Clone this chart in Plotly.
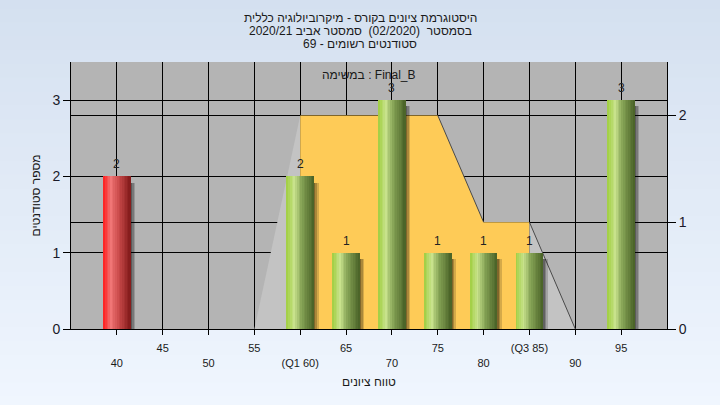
import plotly.graph_objects as go
import numpy as np

# ---------------- data ----------------
bins = [40, 45, 50, 55, 60, 65, 70, 75, 80, 85, 90, 95]
counts = [2, 0, 0, 0, 2, 1, 3, 1, 1, 1, 0, 3]
tick_labels = ["40", "45", "50", "55", "(Q1 60)", "65", "70", "75", "80", "(Q3 85)", "90", "95"]
pass_grade = 55
curve_x = [55, 60, 75, 80, 85, 90]
curve_y = [0, 2, 2, 1, 1, 0]
q1, q3 = 60, 85

title_lines = [
    "היסטוגרמת ציונים בקורס - מיקרוביולוגיה כללית",
    "בסמסטר  (02/2020)  סמסטר אביב 2020/21",
    "סטודנטים רשומים - 69",
]
task_label = "במשימה : Final_B"
x_title = "טווח ציונים"
y_title = "מספר סטודנטים"

# ---------------- layout constants ----------------
W, H = 720, 405
ML, MR, MT, MB = 71, 53, 62, 76
PW, PH = W - ML - MR, H - MT - MB
FONT = "Liberation Sans, DejaVu Sans, Arial, sans-serif"
BAR_W = 3.0
N_SLICES = 16

def py(pix):
    return (H - MB - pix) / PH

def px(pix):
    return (pix - ML) / PW

def lerp_stops(stops, t):
    for (t0, c0), (t1, c1) in zip(stops[:-1], stops[1:]):
        if t0 <= t <= t1:
            f = (t - t0) / (t1 - t0) if t1 > t0 else 0
            c = [int(round(a + (b - a) * f)) for a, b in zip(c0, c1)]
            return "rgb(%d,%d,%d)" % tuple(c)
    return "rgb(%d,%d,%d)" % tuple(stops[-1][1])

green_stops = [(0.0, (160, 206, 64)), (0.28, (200, 226, 140)), (0.55, (132, 162, 84)), (1.0, (72, 96, 38))]
red_stops = [(0.0, (255, 28, 28)), (0.28, (240, 118, 118)), (0.55, (204, 76, 76)), (1.0, (130, 26, 26))]

bx = [b for b, c in zip(bins, counts) if c > 0]
by = [c for c in counts if c > 0]
is_fail = [b < pass_grade for b in bx]

fig = go.Figure()

# ---- distribution shape (right axis, drawn under bars) ----
cx = np.array(curve_x, dtype=float)
cy = np.array(curve_y, dtype=float)
segs = [
    (cx <= q1, "#C3C3C3"),
    ((cx >= q1) & (cx <= q3), "#FECB57"),
    (cx >= q3, "#C3C3C3"),
]
for mask, col in segs:
    fig.add_trace(go.Scatter(x=cx[mask], y=cy[mask], mode="lines", fill="tozeroy",
                             fillcolor=col, line=dict(width=0), yaxis="y",
                             hoverinfo="skip", showlegend=False))
# dark edges on descending parts
lx, ly = [], []
for i in range(len(cx) - 1):
    if cy[i + 1] < cy[i] and cx[i] >= q1:
        lx += [cx[i], cx[i + 1], None]
        ly += [cy[i], cy[i + 1], None]
fig.add_trace(go.Scatter(x=lx, y=ly, mode="lines", line=dict(color="#4a4a4a", width=1),
                         yaxis="y", hoverinfo="skip", showlegend=False))

# ---- bar shadows ----
for shift, alpha in [(0.5, 0.16), (0.32, 0.2), (0.16, 0.25)]:
    fig.add_trace(go.Bar(x=bx, y=[v - 0.08 for v in by], width=BAR_W, offset=-BAR_W / 2 + shift,
                         marker=dict(color="rgba(0,0,0,%.2f)" % alpha, line=dict(width=0)),
                         yaxis="y2", hoverinfo="skip", showlegend=False))

# ---- gradient bars (cylinder look) ----
step = BAR_W / N_SLICES
for i in range(N_SLICES):
    t = (i + 0.5) / N_SLICES
    cols = [lerp_stops(red_stops if f else green_stops, t) for f in is_fail]
    w = step * 1.4 if i < N_SLICES - 1 else step
    fig.add_trace(go.Bar(x=bx, y=by, width=w, offset=-BAR_W / 2 + i * step,
                         marker=dict(color=cols, line=dict(width=0)),
                         yaxis="y2", hoverinfo="skip", showlegend=False))

# ---- value labels ----
annotations = []
for x, v in zip(bx, by):
    annotations.append(dict(x=x, y=v, xref="x", yref="y2", text=str(v), showarrow=False,
                            yshift=12, font=dict(family=FONT, size=12, color="#222")))

# title lines
for k, (line, ypix) in enumerate(zip(title_lines, [18, 31, 44])):
    annotations.append(dict(x=px(360), y=py(ypix), xref="paper", yref="paper", text=line,
                            showarrow=False, xanchor="center", yanchor="middle",
                            font=dict(family=FONT, size=12, color="#1a1a1a")))
annotations.append(dict(x=0.5, y=py(75), xref="paper", yref="paper", text=task_label,
                        showarrow=False, xanchor="center", yanchor="middle",
                        font=dict(family=FONT, size=12, color="#1a1a1a")))

# ---- background gradient ----
shapes = []
NB = 30
x0, x1 = -ML / PW - 0.02, 1 + MR / PW + 0.02
y0, y1 = -MB / PH - 0.02, 1 + MT / PH + 0.02
top_c, bot_c = (212, 224, 240), (240, 246, 254)
for i in range(NB):
    f = i / (NB - 1)
    c = tuple(int(round(b + (t - b) * f)) for b, t in zip(bot_c, top_c))
    ya = y0 + (y1 - y0) * i / NB
    yb = y0 + (y1 - y0) * (i + 1) / NB + 0.01
    shapes.append(dict(type="rect", xref="paper", yref="paper", x0=x0, x1=x1, y0=ya, y1=yb,
                       fillcolor="rgb(%d,%d,%d)" % c, line=dict(width=0), layer="below"))
shapes.append(dict(type="rect", xref="paper", yref="paper", x0=0, x1=1, y0=0, y1=1,
                   fillcolor="#B4B4B4", line=dict(width=0), layer="below"))

ticktext = [("<br>" + lab) if (b // 5) % 2 == 0 else lab for b, lab in zip(bins, tick_labels)]

fig.update_layout(
    width=W, height=H,
    margin=dict(l=ML, r=MR, t=MT, b=MB, pad=0),
    paper_bgcolor="#E4EDF8",
    plot_bgcolor="#B4B4B4",
    barmode="overlay",
    bargap=0,
    showlegend=False,
    hovermode=False,
    font=dict(family=FONT, color="#1a1a1a"),
    shapes=shapes,
    annotations=annotations,
    xaxis=dict(range=[35, 100], tickvals=bins, ticktext=ticktext, ticks="outside", ticklen=5,
               tickcolor="black", showline=True, linecolor="black", linewidth=1,
               showgrid=True, gridcolor="black", gridwidth=1, zeroline=False,
               tickfont=dict(family=FONT, size=11, color="#1a1a1a"), ticklabelstandoff=4,
               title=dict(text=x_title, font=dict(family=FONT, size=12, color="#1a1a1a"), standoff=10)),
    yaxis=dict(range=[0, 2.5], side="right", tick0=0, dtick=1, ticks="outside", ticklen=8,
               tickcolor="black", showline=True, linecolor="black", linewidth=1,
               showgrid=True, gridcolor="black", gridwidth=1, zeroline=False,
               tickfont=dict(family=FONT, size=14, color="#1a1a2a")),
    yaxis2=dict(range=[0, 3.5], side="left", overlaying="y", tick0=0, dtick=1, ticks="outside",
                ticklen=7, tickcolor="black", showline=True, linecolor="black", linewidth=1,
                showgrid=True, gridcolor="black", gridwidth=1, zeroline=False,
                tickfont=dict(family=FONT, size=14, color="#1a1a2a"),
                title=dict(text=y_title, font=dict(family=FONT, size=12, color="#1a1a1a"), standoff=9)),
)

fig.write_html("out.html", config={"displayModeBar": False},
               post_script="document.body.style.margin='0';document.body.style.overflow='hidden';")
